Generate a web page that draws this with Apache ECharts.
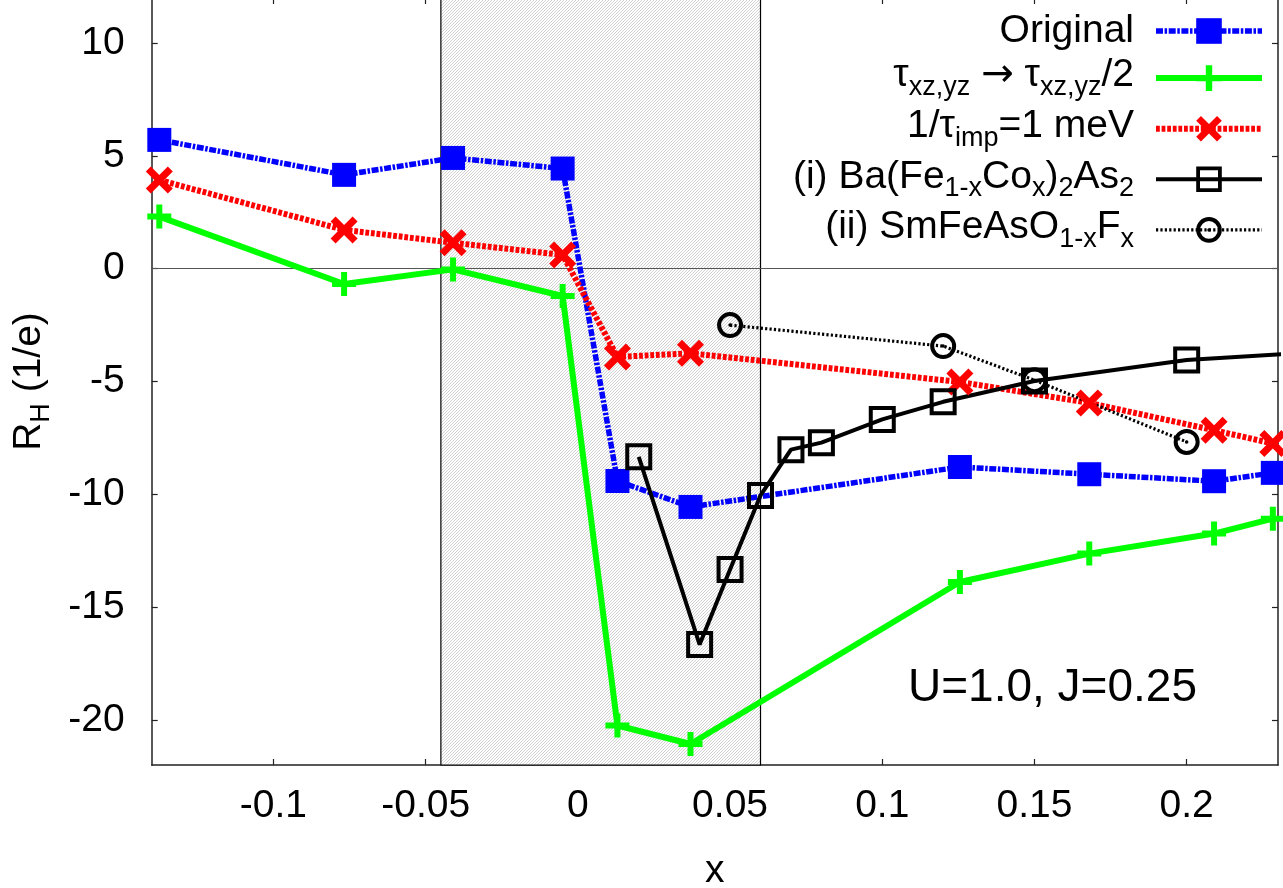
<!DOCTYPE html>
<html><head><meta charset="utf-8">
<script src="https://cdn.jsdelivr.net/npm/echarts@6/dist/echarts.min.js"></script>
<style>html,body{margin:0;padding:0;background:#fff}#c{width:1283px;height:888px}</style>
</head><body><div id="c"></div>
<script>
// ---- data ----
const xTicks = [-0.1, -0.05, 0, 0.05, 0.1, 0.15, 0.2];
const yTicks = [-20, -15, -10, -5, 0, 5, 10];
const xRange = [-0.14, 0.23];
const yRange = [-22, 12];
const shadeRange = [-0.045, 0.06];

const xModel   = [-0.1375, -0.0768, -0.041, -0.005, 0.013, 0.037, 0.1255, 0.168, 0.209, 0.2283];
const original = [5.71, 4.16, 4.91, 4.44, -9.41, -10.56, -8.79, -9.11, -9.42, -9.05];
const tauHalf  = [2.31, -0.68, -0.03, -1.21, -20.25, -21.07, -13.89, -12.63, -11.74, -11.08];
const impScat  = [3.93, 1.72, 1.15, 0.61, -3.91, -3.75, -5.02, -5.95, -7.16, -7.75];

const baX = [0.02, 0.04, 0.05, 0.06, 0.07, 0.08, 0.10, 0.12, 0.15, 0.20, 0.25];
const baY = [-8.34, -16.66, -13.33, -10.05, -8.02, -7.71, -6.68, -5.90, -4.98, -4.05, -3.64];
const smX = [0.05, 0.12, 0.15, 0.20];
const smY = [-2.50, -3.43, -4.94, -7.68];

const seriesNames = ['Original', 'τxz,yz → τxz,yz/2', '1/τimp=1 meV', '(i) Ba(Fe1-xCox)2As2', '(ii) SmFeAsO1-xFx'];
const legendRich = [
  '{o|Original}',
  '{m|τ}{s|xz,yz}{m| }{a|→}{m| τ}{s|xz,yz}{m|/2}',
  '{m|1/τ}{s|imp}{m|=1 meV}',
  '{m|(i) Ba(Fe}{s|1-x}{m|Co}{s|x}{m|)}{s|2}{m|As}{s|2}',
  '{m|(ii) SmFeAsO}{s|1-x}{m|F}{s|x}'
];
const annotation = 'U=1.0, J=0.25';

// ---- helpers ----
const FONT = 'Liberation Sans';
function pts(xs, ys) { return xs.map((x, i) => [x, ys[i]]); }
function hatch() {
  const c = document.createElement('canvas');
  c.width = 6; c.height = 6;
  const g = c.getContext('2d');
  g.fillStyle = '#fff'; g.fillRect(0, 0, 6, 6);
  g.strokeStyle = '#bdbdbd'; g.lineWidth = 0.7;
  g.beginPath();
  for (let k = -6; k <= 12; k += 3) { g.moveTo(k, 6); g.lineTo(k + 6, 0); }
  g.stroke();
  return c;
}
const SYM_PLUS = 'path://M9,0H15V9H24V15H15V24H9V15H0V9H9Z';
const SYM_X = 'path://M0,5L5,0L13.5,8.5L22,0L27,5L18.5,13.5L27,22L22,27L13.5,18.5L5,27L0,22L8.5,13.5Z';
const SYM_OSQ = 'path://M0,0H27V27H0Z M4,4V23H23V4Z';
const SYM_OCIRC = 'path://M14,0A14,14 0 1,1 14,28A14,14 0 1,1 14,0Z M14,4.3A9.7,9.7 0 1,0 14,23.7A9.7,9.7 0 1,0 14,4.3Z M14,12.1A1.9,1.9 0 1,1 14,15.9A1.9,1.9 0 1,1 14,12.1Z';

const richStyles = {
  o: { fontSize: 39, lineHeight: 45, verticalAlign: 'middle', fontFamily: FONT, color: '#000' },
  m: { fontSize: 39, lineHeight: 45, padding: [0, 0, 5, 0], verticalAlign: 'middle', fontFamily: FONT, color: '#000' },
  a: { fontSize: 39, lineHeight: 45, padding: [0, 0, 5, 0], verticalAlign: 'middle', fontFamily: 'DejaVu Sans', color: '#000' },
  s: { fontSize: 27, lineHeight: 45, padding: [19, 0, 0, 0], verticalAlign: 'middle', fontFamily: FONT, color: '#000' }
};

const axisCol = '#222';
function xAx(pos, main) {
  return {
    type: 'value', min: xRange[0], max: xRange[1], position: pos,
    axisLine: { show: true, onZero: false, lineStyle: { color: axisCol, width: 1.5 } },
    axisTick: { show: true, inside: true, length: 6, customValues: xTicks, lineStyle: { color: axisCol, width: 1.2 } },
    axisLabel: main ? { show: true, customValues: xTicks, margin: 22, fontSize: 39, lineHeight: 39, color: '#000', fontFamily: FONT } : { show: false },
    splitLine: { show: false },
    name: main ? 'x' : '', nameLocation: 'middle', nameGap: 87,
    nameTextStyle: { fontSize: 39, lineHeight: 39, color: '#000', fontFamily: FONT }
  };
}
function yAx(pos, main) {
  return {
    type: 'value', min: yRange[0], max: yRange[1], position: pos,
    axisLine: { show: true, onZero: false, lineStyle: { color: axisCol, width: 1.5 } },
    axisTick: { show: true, inside: true, length: 6, customValues: yTicks, lineStyle: { color: axisCol, width: 1.2 } },
    axisLabel: main ? { show: true, customValues: yTicks, margin: 27, fontSize: 39, lineHeight: 39, color: '#000', fontFamily: FONT } : { show: false },
    splitLine: { show: false },
    name: main ? '{m|R}{s|H}{m| (1/e)}' : '', nameLocation: 'middle', nameGap: 97, nameRotate: 90,
    nameTextStyle: { color: '#000', fontFamily: FONT, rich: richStyles }
  };
}

function lineSeries(name, data, color, width, type, symbol, size, extra) {
  return Object.assign({
    name, type: 'line', data, symbol, symbolSize: size, showAllSymbol: true,
    lineStyle: { color, width, type }, itemStyle: { color },
    emphasis: { disabled: true }, z: 2
  }, extra || {});
}

const series = [
  lineSeries(seriesNames[0], pts(xModel, original), '#0000ff', 5.5, [7, 1.6, 2.5, 1.6], 'rect', 24, {
    markArea: {
      silent: true, z: 1,
      itemStyle: { color: { image: hatch(), repeat: 'repeat' }, borderColor: '#000', borderWidth: 1.2 },
      data: [[{ xAxis: shadeRange[0] }, { xAxis: shadeRange[1] }]]
    },
    markLine: {
      silent: true, z: 1, symbol: ['none', 'none'], label: { show: false },
      lineStyle: { color: '#555', width: 1.2, type: 'solid' },
      data: [{ yAxis: 0 }]
    }
  }),
  lineSeries(seriesNames[1], pts(xModel, tauHalf), '#00ff00', 6, 'solid', SYM_PLUS, 24),
  lineSeries(seriesNames[2], pts(xModel, impScat), '#ff0000', 6, [3.8, 1.8], SYM_X, 27),
  lineSeries(seriesNames[3], pts(baX, baY), '#000000', 4, 'solid', SYM_OSQ, 27),
  lineSeries(seriesNames[4], pts(smX, smY), '#000000', 3.2, [2.2, 2.2], SYM_OCIRC, 26)
];

const chart = echarts.init(document.getElementById('c'), null, { renderer: 'canvas' });
chart.setOption({
  animation: false,
  backgroundColor: '#fff',
  textStyle: { fontFamily: FONT },
  grid: { left: 151.7, right: 5, top: -2, bottom: 123, containLabel: false, outerBoundsMode: 'none' },
  xAxis: [xAx('bottom', true), xAx('top', false)],
  yAxis: [yAx('left', true), yAx('right', false)],
  legend: {
    show: true, orient: 'vertical', align: 'right', right: 18, top: 11.5, padding: 0,
    itemWidth: 106, itemHeight: 32, itemGap: 4.6, selectedMode: false,
    data: seriesNames,
    lineStyle: { width: 'inherit' },
    formatter: function (n) { return legendRich[seriesNames.indexOf(n)]; },
    textStyle: { color: '#000', fontFamily: FONT, padding: [0, 17, 0, 0], rich: richStyles }
  },
  graphic: [{
    type: 'text', x: 1052.5, y: 688, silent: true,
    style: { text: annotation, fontSize: 46, fontFamily: FONT, fill: '#000', align: 'center', verticalAlign: 'middle' }
  }],
  series
});
</script>
</body></html>
